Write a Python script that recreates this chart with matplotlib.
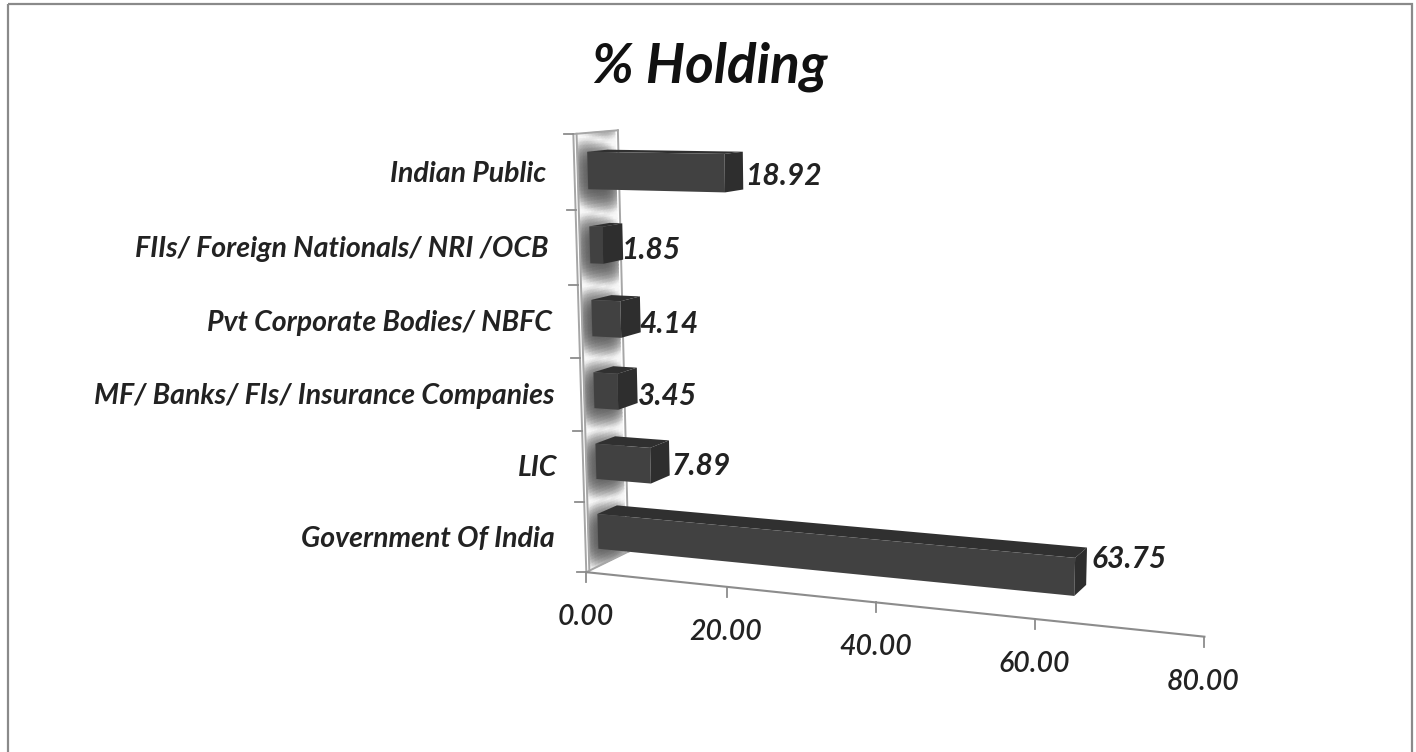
import matplotlib
matplotlib.use("Agg")
import matplotlib.pyplot as plt
import matplotlib.transforms as mtransforms
from matplotlib.patches import Rectangle
import numpy as np

categories = ["Government Of India", "LIC", "MF/ Banks/ FIs/ Insurance Companies",
              "Pvt Corporate Bodies/ NBFC", "FIIs/ Foreign Nationals/ NRI /OCB", "Indian Public"]
holding = [63.75, 7.89, 3.45, 4.14, 1.85, 18.92]
value_ticks = [0, 20, 40, 60, 80]

W, H = 1416, 752
BAR_LOW, BAR_HIGH = 0.25, 0.75
DEPTH_FRONT, DEPTH_BACK = 0.29, 0.75
# label offsets in pixels, bottom bar first
value_nudge = [(5, -7), (2, 8), (1, 11), (-1, 10), (-2, 8), (2, 5)]
name_nudge = [-1, 4, 3, 3, 2, 2]

# (value, category position, depth) -> picture pixel
calibration = [
    (0, 0, 0, 587, 572), (20, 0, 0, 727, 587), (40, 0, 0, 875, 604),
    (60, 0, 0, 1035, 620), (80, 0, 0, 1204, 636),
    (0, 6, 0, 572, 135), (0, 6, 1, 618, 130), (0, 0, 1, 628, 550),
    (0, 3, 0, 580, 357),
    (63.75, 0.25, 0.29, 1075, 595), (63.75, 0.75, 0.29, 1075, 557),
    (63.75, 0.75, 0.75, 1087, 548), (63.75, 0.25, 0.75, 1087, 585),
    (0, 0.75, 0.29, 598, 515), (0, 0.25, 0.29, 598, 548), (0, 0.75, 0.75, 617, 507),
    (18.92, 5.25, 0.29, 726, 192), (18.92, 5.75, 0.29, 726, 153),
    (18.92, 5.75, 0.75, 742, 153), (18.92, 5.25, 0.75, 742, 190),
    (0, 5.75, 0.29, 588, 152), (0, 5.25, 0.29, 588, 188),
]


def fit_camera(points):
    rows = []
    for v, c, d, px, py in points:
        world = [v / 100, c / 6, d, 1]
        px, py = px / 1000, py / 1000
        rows.append(world + [0, 0, 0, 0] + [-px * w for w in world])
        rows.append([0, 0, 0, 0] + world + [-py * w for w in world])
    return np.linalg.svd(np.array(rows))[2][-1].reshape(3, 4)


CAMERA = fit_camera(calibration)


class Perspective(mtransforms.Transform):
    input_dims = 2
    output_dims = 2
    is_separable = False
    has_inverse = False

    def __init__(self, plane):
        super().__init__()
        self.plane = plane

    def transform_non_affine(self, values):
        values = np.asarray(values, dtype=float)
        world = np.column_stack([values[:, 0] / 100, values[:, 1] / 6,
                                 np.full(len(values), self.plane), np.ones(len(values))])
        out = world @ CAMERA.T
        return out[:, :2] / out[:, 2:] * 1000


def face(depth_a, points_a, depth_b, points_b):
    return np.vstack([Perspective(depth_a).transform(points_a),
                      Perspective(depth_b).transform(points_b)])


fig = plt.figure(figsize=(W / 100, H / 100), dpi=100, facecolor="white")
ax = fig.add_axes([0, 0, 1, 1])
ax.set_axis_off()
ax.autoscale(False)
ax.set_xlim(0, W)
ax.set_ylim(H, 0)

# outer frame
ax.add_patch(Rectangle((8, 4), 1404, 760, fill=False, edgecolor="#8a8a8a", linewidth=1.6))

ax.text(710, 67, "% Holding", ha="center", va="center", fontsize=39.5,
        family="Lato", style="italic", weight="bold", color="#111111")

# wall behind the bars
cc = np.linspace(0, 6, 121)
dd = np.linspace(0.07, 0.93, 13)
wall_x = np.zeros((len(cc), len(dd)))
wall_y = np.zeros((len(cc), len(dd)))
shade = np.zeros((len(cc), len(dd)))
for j, d in enumerate(dd):
    xy = Perspective(d).transform(np.column_stack([np.zeros(len(cc)), cc]))
    wall_x[:, j], wall_y[:, j] = xy[:, 0], xy[:, 1]
    frac = np.abs(((cc + 0.18 * d) % 1) - 0.5) * 2
    edge = np.abs(d - 0.5) * 2
    shade[:, j] = np.clip(0.36 + 0.62 * frac ** 3 + 0.35 * edge ** 3, 0, 0.97)
ax.pcolormesh(wall_x, wall_y, shade, cmap="gray", vmin=0, vmax=1, shading="gouraud", zorder=1)

line_kw = dict(color="#a6a6a6", linewidth=1.4, zorder=2)
for d in [0, 0.07, 1]:
    edge_line = Perspective(d).transform([(0, 0), (0, 6)])
    ax.plot(edge_line[:, 0], edge_line[:, 1], **line_kw)
top_line = face(0, [(0, 6)], 1, [(0, 6)])
ax.plot(top_line[:, 0], top_line[:, 1], **line_kw)
floor_line = face(0, [(0, 0)], 1, [(0, 0)])
ax.plot(floor_line[:, 0], floor_line[:, 1], **line_kw)

# axis lines and ticks
axis_line = Perspective(0).transform([(0, 0), (80, 0)])
ax.plot(axis_line[:, 0], axis_line[:, 1], color="#8c8c8c", linewidth=1.5, zorder=2)
front = Perspective(0)
for c in range(7):
    x0, y0 = front.transform([(0, c)])[0]
    ax.plot([x0 - 9, x0], [y0, y0], color="#8c8c8c", linewidth=1.3, zorder=2)
for v in value_ticks:
    x0, y0 = front.transform([(v, 0)])[0]
    ax.plot([x0, x0], [y0, y0 + 10], color="#8c8c8c", linewidth=1.3, zorder=2)
    ax.annotate(f"{v:.2f}", (x0, y0), xytext=(-1 * 0.72, -45 * 0.72), textcoords="offset points",
                ha="center", va="center", fontsize=20.5, family="Lato", style="italic",
                weight="semibold", color="#222222")

# bars
positions = np.arange(len(holding)) + 0.5
ax.barh(positions, holding, height=BAR_HIGH - BAR_LOW, color="#414141", linewidth=0, zorder=4,
        transform=Perspective(DEPTH_FRONT) + ax.transData)
for i, (pos, val, name) in enumerate(zip(positions, holding, categories)):
    low, high = pos - 0.25, pos + 0.25
    side = face(DEPTH_FRONT, [(val, low), (val, high)], DEPTH_BACK, [(val, high), (val, low)])
    top = face(DEPTH_FRONT, [(0, high), (val, high)], DEPTH_BACK, [(val, high), (0, high)])
    ax.fill(top[:, 0], top[:, 1], color="#303030", linewidth=0, zorder=3)
    ax.fill(side[:, 0], side[:, 1], color="#2e2e2e", linewidth=0, zorder=5)

    x1, y1 = Perspective(DEPTH_BACK).transform([(val, pos)])[0]
    ax.text(x1 + value_nudge[i][0], y1 + value_nudge[i][1], f"{val:.2f}", ha="left", va="center",
            fontsize=21.5, family="Lato", style="italic", weight="bold", color="#222222", zorder=6)

    x2, y2 = front.transform([(0, pos)])[0]
    ax.text(x2 - 30 + name_nudge[i], y2 + 2, name, ha="right", va="center", fontsize=20.5,
            family="Lato", style="italic", weight="bold", color="#222222", zorder=6)

fig.savefig("out.png", dpi=100, facecolor="white")
